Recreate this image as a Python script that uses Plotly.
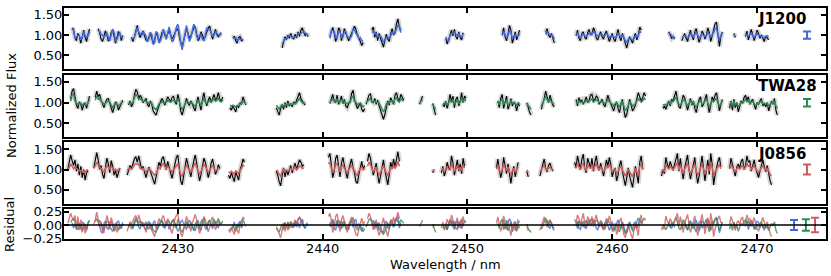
import plotly.graph_objects as go

STEP_NM = 0.1
X_RANGE = [2422.14, 2474.76]
FLUX_RANGE = [0.16, 1.67]
RESID_RANGE = [-0.265, 0.295]
X_TICKS = [2430, 2440, 2450, 2460, 2470]
FLUX_TICKS = [0.5, 1.0, 1.5]
RESID_TICKS = [-0.25, 0.0, 0.25]

TARGETS = ["J1200", "TWA28", "J0856"]
COLORS = ["#4169e1", "#2e8b57", "#cd5c5c"]
ERR_FLUX = [0.09, 0.09, 0.125]
ERR_RESID = [0.096, 0.107, 0.136]
ERR_X_FLUX = 2473.45
ERR_X_RESID = [2472.55, 2473.37, 2474.0]

# ---------------- J1200 (flux and residual in hundredths) ----------------
J1200_START = [2422.7, 2424.5, 2426.8, 2433.8, 2437.2, 2440.5, 2443.4, 2448.5,
               2452.4, 2455.4, 2457.5, 2463.9, 2464.8, 2468.4, 2469.2]
J1200_FLUX = [
    [118, 110, 94, 86, 104, 97, 80, 98, 112, 94, 84, 102, 115],
    [116, 106, 90, 84, 97, 110, 101, 85, 90, 107, 112, 95, 80, 94, 109, 102, 86, 99],
    [95, 84, 96, 115, 124, 104, 94, 103, 110, 98, 88, 85, 97, 104, 92, 80, 90, 104, 98, 83,
     92, 106, 111, 99, 94, 104, 112, 100, 90, 97, 108, 113, 115, 98, 80, 72, 88, 104, 115, 106,
     92, 99, 110, 116, 121, 104, 86, 92, 108, 100, 88, 96, 109, 118, 122, 104, 90, 103, 114, 101,
     95, 102, 106],
    [92, 97, 86, 80, 94, 96, 85, 90],
    [68, 80, 96, 88, 100, 92, 104, 95, 90, 102, 93, 108, 97, 112, 118, 106, 98, 104, 96],
    [96, 108, 119, 104, 84, 96, 118, 112, 86, 100, 116, 104, 92, 86, 96, 104, 110, 122, 114, 98,
     94, 86, 74, 82],
    [112, 120, 94, 108, 86, 104, 92, 78, 70, 88, 102, 90, 84, 104, 116, 100, 108, 128, 140, 118, 110],
    [92, 78, 88, 104, 112, 98, 114, 96, 90, 108, 94, 88, 106],
    [100, 118, 96, 86, 102, 124, 112, 80, 92, 108, 88, 100, 112],
    [106, 116, 100, 94, 104, 90, 80],
    [98, 112, 92, 86, 104, 108, 94, 90, 106, 114, 100, 104, 118, 110, 92, 88, 100, 108, 96, 90,
     104, 110, 96, 84, 94, 104, 90, 84, 100, 114, 96, 86, 104, 92, 74, 68, 84, 96, 88, 80,
     94, 104, 88, 100, 120, 112],
    [108, 100, 92, 96, 90],
    [86, 98, 104, 92, 84, 100, 112, 98, 88, 108, 116, 96, 82, 94, 110, 104, 90, 100, 118, 106,
     84, 98, 112, 128, 132, 104, 72, 96, 108],
    [104, 94],
    [96, 110, 88, 104, 114, 100, 86, 98, 112, 104, 92, 100, 90, 84, 98, 94, 88],
]
J1200_RESID = [
    [4, -6, 3, -9, 5, -2, -8, 6, 3, -5, -10, 4, 7],
    [6, -4, -12, -16, 3, 8, -5, -9, 4, 7, -3, -11, -6, 5, 8, -4, -7, 2],
    [3, -7, 2, 9, 6, -4, -8, 5, 3, -6, -9, 2, 7, -3, -10, 4, 8, -5, -7, 3,
     6, 9, -4, -6, 5, 2, -8, -3, 7, 10, 4, -6, -12, -8, 6, 9, 3, -5, -9, 4,
     8, 5, -3, -11, 2, 7, -4, -8, 6, 10, 3, -6, -9, 5, 8, -2, -7, 4, 6, -3,
     -5, 3, 2],
    [-4, 6, -8, -5, 3, 7, -6, 2],
    [-10, -6, 5, -3, 4, -7, 6, 2, -5, 7, -4, 5, -6, 8, 10, -3, -7, 4, -2],
    [5, -4, 8, -6, -10, 4, 9, 3, -8, 5, 7, -5, -3, -9, 4, 6, -4, 8, 10, -5, 3, -7, -12, -4],
    [6, 9, -8, 4, -10, 5, -6, -12, -14, 3, 7, -5, -8, 6, 9, -4, 3, 12, 16, -6, 4],
    [-4, -9, 3, 6, 8, -5, 7, -6, -8, 5, -3, -7, 4],
    [2, 9, -5, -8, 4, 12, 6, -13, -4, 7, -9, 3, 8],
    [5, 8, -4, -6, 4, -7, -10],
    [-3, 7, -6, -8, 5, 6, -4, -7, 6, 8, -2, 3, 9, 5, -7, -9, 2, 6, -5, -8,
     4, 7, -4, -10, -3, 6, -6, -9, 3, 10, -4, -8, 5, -3, -12, -15, -5, 4, -3, -8,
     3, 6, -7, 2, 11, 6],
    [6, -3, -7, 4, -5],
    [-8, 3, 6, -5, -9, 4, 8, -3, -7, 6, 9, -4, -11, -2, 7, 5, -6, 3, 10, 5,
     -10, -3, 6, 12, 14, 4, -15, -4, 5],
    [5, -4],
    [-3, 8, -9, 4, 9, 2, -8, -2, 7, 5, -6, 3, -5, -10, 2, -4, -8],
]

# ---------------- TWA28 ----------------
TWA28_START = [2422.6, 2424.3, 2426.6, 2433.6, 2436.8, 2440.5, 2443.0, 2446.7,
               2447.6, 2448.3, 2452.1, 2454.1, 2455.1, 2457.5, 2463.5, 2468.1]
TWA28_FLUX = [
    [108, 128, 134, 110, 94, 86, 102, 96, 82, 94, 100, 86, 104, 116],
    [112, 128, 114, 120, 106, 94, 88, 100, 108, 110, 98, 86, 76, 88, 102, 96, 82, 90, 98, 106],
    [94, 104, 90, 98, 118, 132, 126, 110, 118, 112, 100, 106, 110, 96, 90, 104, 96, 80, 74, 70,
     82, 94, 102, 110, 104, 94, 104, 114, 108, 102, 112, 116, 102, 96, 120, 106, 80, 70, 84, 100,
     110, 98, 94, 104, 96, 86, 80, 100, 114, 96, 82, 108, 124, 104, 92, 106, 114, 100, 112, 120,
     106, 112, 124, 108, 104, 114],
    [88, 82, 92, 86, 78, 94, 88, 100, 96, 114, 104, 94],
    [88, 80, 70, 86, 96, 84, 100, 88, 104, 92, 98, 90, 102, 96, 106, 118, 124, 110, 102, 98, 94],
    [98, 110, 120, 104, 100, 118, 96, 104, 116, 98, 108, 92, 88, 98, 104, 122, 130, 108, 96, 86,
     92, 100, 84, 78, 86],
    [96, 108, 118, 122, 104, 100, 110, 96, 106, 92, 82, 72, 60, 72, 92, 104, 94, 112, 104, 96,
     118, 124, 110, 104, 120, 112, 106],
    [96, 106, 116],
    [98, 82, 70],
    [96, 90, 104, 86, 100, 120, 102, 116, 88, 108, 114, 92, 104, 124, 100, 116, 110],
    [104, 88, 110, 120, 86, 98, 116, 84, 94, 110, 92, 102, 96, 80, 98, 92],
    [100, 86, 76, 70],
    [84, 96, 110, 128, 114, 100, 118, 104, 94, 90],
    [108, 92, 112, 102, 106, 96, 104, 114, 100, 106, 118, 120, 104, 108, 116, 112, 96, 104, 108, 96,
     90, 104, 118, 106, 98, 88, 80, 94, 102, 86, 76, 96, 108, 84, 64, 72, 90, 108, 94, 80,
     86, 94, 110, 124, 114, 104, 112, 124, 116],
    [86, 92, 84, 96, 104, 92, 108, 104, 116, 128, 108, 90, 86, 100, 118, 112, 96, 82, 96, 110,
     94, 104, 86, 76, 94, 108, 114, 90, 96, 110, 120, 96, 76, 94, 114, 104, 118, 124, 98, 80,
     96, 108],
    [86, 104, 82, 108, 88, 100, 78, 94, 104, 98, 112, 118, 106, 114, 96, 104, 108, 94, 84, 100,
     96, 104, 110, 92, 98, 90, 100, 80, 94, 104, 96, 110, 82, 70],
]
TWA28_RESID = [
    [5, 10, 12, 6, -5, -9, 3, -2, -11, -4, 2, -8, 4, 9],
    [6, 12, 5, 9, 3, -6, -9, 2, 6, 7, -3, -8, -12, -6, 4, -2, -10, -5, -2, 5],
    [-5, 4, -8, -3, 7, 12, 9, 3, 8, 5, -3, 2, 6, -5, -8, 4, -3, -10, -12, -13,
     -7, -3, 3, 8, 4, -5, 3, 9, 5, 1, 7, 10, -3, -6, 11, 4, -10, -14, -6, 2,
     7, -4, -5, 4, -3, -8, -11, 2, 9, -5, -10, 6, 13, 3, -7, 5, 9, -2, 6, 11,
     3, 6, 12, 5, 2, 8],
    [-6, -9, -2, -6, -12, 2, -5, 4, -2, 10, 4, -3],
    [-6, -10, -14, -5, 2, -7, 4, -6, 6, -4, 3, -5, 4, -2, 6, 11, 14, 6, 2, -2, -4],
    [-3, 5, 11, 2, -2, 9, -5, 3, 8, -4, 5, -7, -9, -3, 4, 10, 14, 5, -5, -9, -6, 1, -10, -12, -7],
    [-4, 5, 10, 12, 3, -2, 6, -4, 4, -7, -10, -14, -18, -12, -5, 4, -5, 7, 2, -4,
     9, 12, 6, 3, 10, 6, 3],
    [-3, 4, 9],
    [2, -8, -14],
    [-3, -7, 3, -9, 1, 11, 2, 8, -8, 5, 7, -6, 3, 12, -2, 8, 5],
    [3, -7, 6, 11, -9, -2, 9, -11, -4, 6, -6, 2, -3, -12, -2, -6],
    [2, -7, -11, -14],
    [-8, -3, 6, 13, 7, -2, 9, 3, -4, -6],
    [6, -7, 8, 2, 4, -4, 3, 9, -2, 4, 10, 11, 3, 5, 9, 7, -4, 3, 5, -4,
     -8, 3, 10, 4, -2, -8, -12, -4, 2, -9, -13, -3, 6, -8, -17, -13, -5, 6, -4, -11,
     -8, -4, 7, 13, 8, 3, 7, 13, 9],
    [-8, -4, -9, -2, 3, -5, 5, 2, 9, 14, 5, -6, -9, 1, 10, 7, -3, -10, -2, 6,
     -4, 3, -8, -13, -3, 5, 8, -6, -2, 6, 11, -3, -13, -3, 8, 2, 10, 13, -1, -11,
     -2, 5],
    [-8, 3, -10, 5, -7, 1, -12, -3, 3, -1, 7, 10, 4, 8, -2, 3, 5, -3, -9, 1,
     -2, 3, 6, -5, -1, -6, 1, -11, -3, 3, -2, 6, -10, -16],
]

# ---------------- J0856 ----------------
J0856_START = [2422.4, 2424.2, 2426.5, 2433.5, 2436.8, 2440.4, 2443.1, 2447.6,
               2448.2, 2452.0, 2454.1, 2455.0, 2457.4, 2463.4, 2468.1]
J0856_FLUX = [
    [100, 118, 136, 122, 110, 124, 96, 114, 86, 108, 80, 100, 74, 92, 98],
    [104, 120, 142, 124, 100, 110, 88, 78, 104, 128, 114, 92, 122, 108, 86, 98, 80, 96, 104],
    [86, 96, 110, 102, 116, 126, 132, 118, 134, 112, 100, 108, 92, 80, 94, 106, 96, 84, 70, 64,
     82, 104, 118, 108, 126, 132, 114, 100, 120, 108, 90, 78, 96, 118, 130, 136, 104, 72, 62, 84,
     110, 128, 112, 96, 82, 104, 124, 136, 116, 90, 72, 88, 110, 128, 118, 96, 80, 94, 116, 126,
     108, 88, 96, 112, 102],
    [86, 78, 92, 80, 70, 94, 84, 74, 100, 110, 126, 118],
    [96, 86, 70, 60, 84, 104, 82, 100, 86, 96, 110, 92, 104, 116, 100, 110, 124, 118, 108, 112],
    [130, 140, 112, 80, 96, 128, 136, 104, 82, 116, 130, 110, 92, 78, 100, 116, 126, 104, 92, 70,
     66, 88, 108, 120, 100, 110],
    [120, 140, 128, 104, 86, 100, 116, 86, 66, 84, 104, 124, 98, 76, 62, 88, 118, 104, 126, 106,
     122, 144, 120],
    [92, 100],
    [92, 108, 84, 96, 118, 104, 100, 134, 116, 86, 104, 124, 96, 114, 90, 128, 108],
    [104, 126, 100, 80, 96, 130, 110, 90, 114, 88, 66, 92, 108, 82, 100, 118],
    [96, 82],
    [84, 96, 110, 126, 104, 94, 110, 116, 104, 96],
    [118, 106, 134, 120, 100, 126, 138, 104, 92, 128, 112, 104, 128, 96, 118, 134, 108, 98, 116, 96,
     84, 104, 124, 108, 130, 112, 82, 96, 104, 72, 86, 110, 122, 96, 72, 60, 80, 104, 84, 68,
     56, 82, 108, 86, 66, 118, 134, 100],
    [84, 100, 90, 130, 114, 102, 120, 108, 98, 112, 128, 140, 96, 128, 100, 76, 104, 122, 136, 100,
     76, 94, 112, 130, 92, 66, 84, 108, 134, 104, 72, 98, 124, 88, 140, 112, 62, 86, 104, 120,
     130, 106],
    [102, 128, 112, 96, 84, 106, 114, 102, 120, 126, 100, 110, 134, 118, 122, 96, 112, 124, 104, 92,
     80, 96, 112, 124, 108, 94, 110, 86, 72, 62],
]
J0856_RESID = [
    [3, 12, 22, 14, 8, 18, -6, 16, -10, 10, -14, 4, -16, -6, -2],
    [2, 10, 24, 12, -4, 6, -10, -15, 3, 18, 8, -8, 14, 5, -12, -3, -14, -4, 2],
    [-12, -4, 6, 2, 9, 14, 18, 6, 19, 8, -2, 5, -6, -14, -4, 4, -3, -10, -18, -22,
     -8, 4, 12, 6, 14, 18, 8, -2, 12, 6, -8, -16, -3, 12, 18, 22, 3, -16, -22, -10,
     6, 16, 8, -3, -12, 3, 14, 20, 10, -6, -16, -8, 6, 16, 10, -5, -13, -4, 10, 15,
     5, -9, -3, 8, 2],
    [-8, -14, -4, -12, -18, -3, -10, -16, 1, 7, 15, 10],
    [-3, -10, -18, -24, -10, 4, -12, 1, -10, -3, 7, -6, 3, 10, 1, 7, 15, 11, 5, 8],
    [16, 22, 8, -14, -3, 16, 21, 3, -12, 10, 18, 7, -5, -14, 1, 10, 15, 3, -6, -18,
     -20, -8, 6, 13, 1, 7],
    [12, 22, 16, 3, -9, 1, 10, -9, -20, -10, 3, 14, -1, -15, -22, -7, 11, 3, 15, 4,
     12, 24, 12],
    [-5, 1],
    [-6, 6, -10, -3, 11, 3, 1, 19, 9, -9, 3, 14, -3, 8, -7, 16, 5],
    [3, 15, 1, -12, -3, 17, 6, -7, 8, -8, -20, -5, 5, -11, 1, 11],
    [-3, -11],
    [-10, -3, 6, 15, 3, -4, 6, 10, 3, -3],
    [11, 3, 19, 12, 1, 15, 22, 3, -6, 16, 7, 2, 16, -3, 10, 19, 5, -2, 9, -3,
     -10, 3, 13, 5, 17, 7, -12, -3, 3, -18, -9, 6, 13, -3, -18, -24, -12, 3, -10, -20,
     -26, -10, 5, -8, -20, 11, 19, 1],
    [-10, 1, -6, 17, 8, 1, 12, 5, -1, 7, 16, 22, -3, 16, 1, -14, 3, 12, 20, 1,
     -14, -4, 7, 17, -5, -20, -9, 5, 20, 3, -17, -1, 14, -8, 22, 7, -22, -8, 3, 12,
     17, 4],
    [1, 16, 7, -3, -10, 4, 8, 1, 12, 15, -1, 5, 19, 10, 12, -3, 7, 14, 2, -5,
     -12, -3, 7, 14, 5, -4, 6, -8, -16, -22],
]

STARTS = [J1200_START, TWA28_START, J0856_START]
FLUXES = [J1200_FLUX, TWA28_FLUX, J0856_FLUX]
RESIDS = [J1200_RESID, TWA28_RESID, J0856_RESID]


def build(starts, fluxes, resids):
    xs, fs, ms, rs = [], [], [], []
    for s, fl, rl in zip(starts, fluxes, resids):
        for i, (f, r) in enumerate(zip(fl, rl)):
            xs.append(round(s + i * STEP_NM, 3))
            fs.append(f / 100.0)
            ms.append((f - r) / 100.0)
            rs.append(r / 100.0)
        xs.append(None); fs.append(None); ms.append(None); rs.append(None)
    return xs, fs, ms, rs


FONT = dict(family="DejaVu Sans", size=13, color="black")
DOMAINS = [[0.736, 1.0], [0.4394, 0.7106], [0.1534, 0.4182], [0.0, 0.1284]]
PLOT_W, PLOT_H, ML, MT = 763, 236, 64, 3

fig = go.Figure()
resid_traces = []
for k, (name, col) in enumerate(zip(TARGETS, COLORS)):
    xs, fs, ms, rs = build(STARTS[k], FLUXES[k], RESIDS[k])
    xa, ya = ("x" if k == 0 else f"x{k+1}"), ("y" if k == 0 else f"y{k+1}")
    fig.add_trace(go.Scatter(x=xs, y=fs, mode="lines", xaxis=xa, yaxis=ya,
                             line=dict(color="#d6d6d6", width=5), hoverinfo="skip"))
    fig.add_trace(go.Scatter(x=xs, y=fs, mode="lines", xaxis=xa, yaxis=ya,
                             line=dict(color="black", width=1.1)))
    fig.add_trace(go.Scatter(x=xs, y=ms, mode="lines", xaxis=xa, yaxis=ya,
                             line=dict(color=col, width=1.5)))
    fig.add_trace(go.Scatter(x=[ERR_X_FLUX], y=[1.0], mode="markers", xaxis=xa, yaxis=ya,
                             marker=dict(size=1, color=col),
                             error_y=dict(type="data", array=[ERR_FLUX[k]], color=col,
                                          thickness=2, width=4)))
    resid_traces.append((xs, rs, col))

for xs, rs, col in resid_traces:
    fig.add_trace(go.Scatter(x=xs, y=rs, mode="lines", xaxis="x4", yaxis="y4",
                             line=dict(color=col, width=1.4), opacity=0.8))
for k, col in enumerate(COLORS):
    fig.add_trace(go.Scatter(x=[ERR_X_RESID[k]], y=[0.0], mode="markers", xaxis="x4", yaxis="y4",
                             marker=dict(size=1, color=col),
                             error_y=dict(type="data", array=[ERR_RESID[k]], color=col,
                                          thickness=2, width=4)))

layout = dict(
    width=831, height=276,
    margin=dict(l=ML, r=4, t=MT, b=37),
    paper_bgcolor="white", plot_bgcolor="white",
    showlegend=False, font=FONT,
)
axis_common = dict(showline=True, linewidth=2, linecolor="black", mirror="ticks",
                   ticks="inside", ticklen=5, tickwidth=1.5, tickcolor="black",
                   showgrid=False, zeroline=False, tickfont=FONT)
for k in range(4):
    sx = "" if k == 0 else str(k + 1)
    xa = dict(axis_common, domain=[0, 1], range=X_RANGE, anchor="y" + sx,
              tickvals=X_TICKS, showticklabels=(k == 3), ticklabelstandoff=-4)
    if k > 0:
        xa["matches"] = "x"
    layout["xaxis" + sx] = xa
    if k < 3:
        ya = dict(axis_common, domain=DOMAINS[k], range=FLUX_RANGE, anchor="x" + sx,
                  tickvals=FLUX_TICKS, tickformat=".2f", ticklabelstandoff=-3)
    else:
        ya = dict(axis_common, domain=DOMAINS[k], range=RESID_RANGE, anchor="x" + sx,
                  tickvals=RESID_TICKS, tickformat=".2f", ticklabelstandoff=-3)
    layout["yaxis" + sx] = ya

fig.update_layout(**layout)

fig.add_shape(type="line", xref="x4 domain", yref="y4", x0=0, x1=1, y0=0, y1=0,
              line=dict(color="black", width=1.5))

label_y = [1.40, 1.41, 1.38]
for k, name in enumerate(TARGETS):
    sx = "" if k == 0 else str(k + 1)
    fig.add_annotation(x=2469.95, y=label_y[k], xref="x" + sx, yref="y" + sx,
                       text=f"<b>{name}</b>", showarrow=False, xanchor="left", yanchor="middle",
                       font=dict(family="DejaVu Sans", size=15, color="black"))


def px_x(px):
    return (px - ML) / PLOT_W


def px_y(py):
    return (MT + PLOT_H - py) / PLOT_H


fig.add_annotation(x=px_x(12), y=px_y(103), xref="paper", yref="paper",
                   xanchor="center", yanchor="middle", text="Normalized Flux",
                   textangle=-90, showarrow=False, font=FONT)
fig.add_annotation(x=px_x(9.5), y=px_y(224), xref="paper", yref="paper",
                   xanchor="center", yanchor="middle", text="Residual",
                   textangle=-90, showarrow=False, font=FONT)
fig.add_annotation(x=0.5, y=px_y(265), xref="paper", yref="paper",
                   xanchor="center", yanchor="middle", text="Wavelength / nm",
                   showarrow=False, font=FONT)

fig.write_html("out.html", post_script="document.body.style.margin='0';",
               config={"displayModeBar": False})
